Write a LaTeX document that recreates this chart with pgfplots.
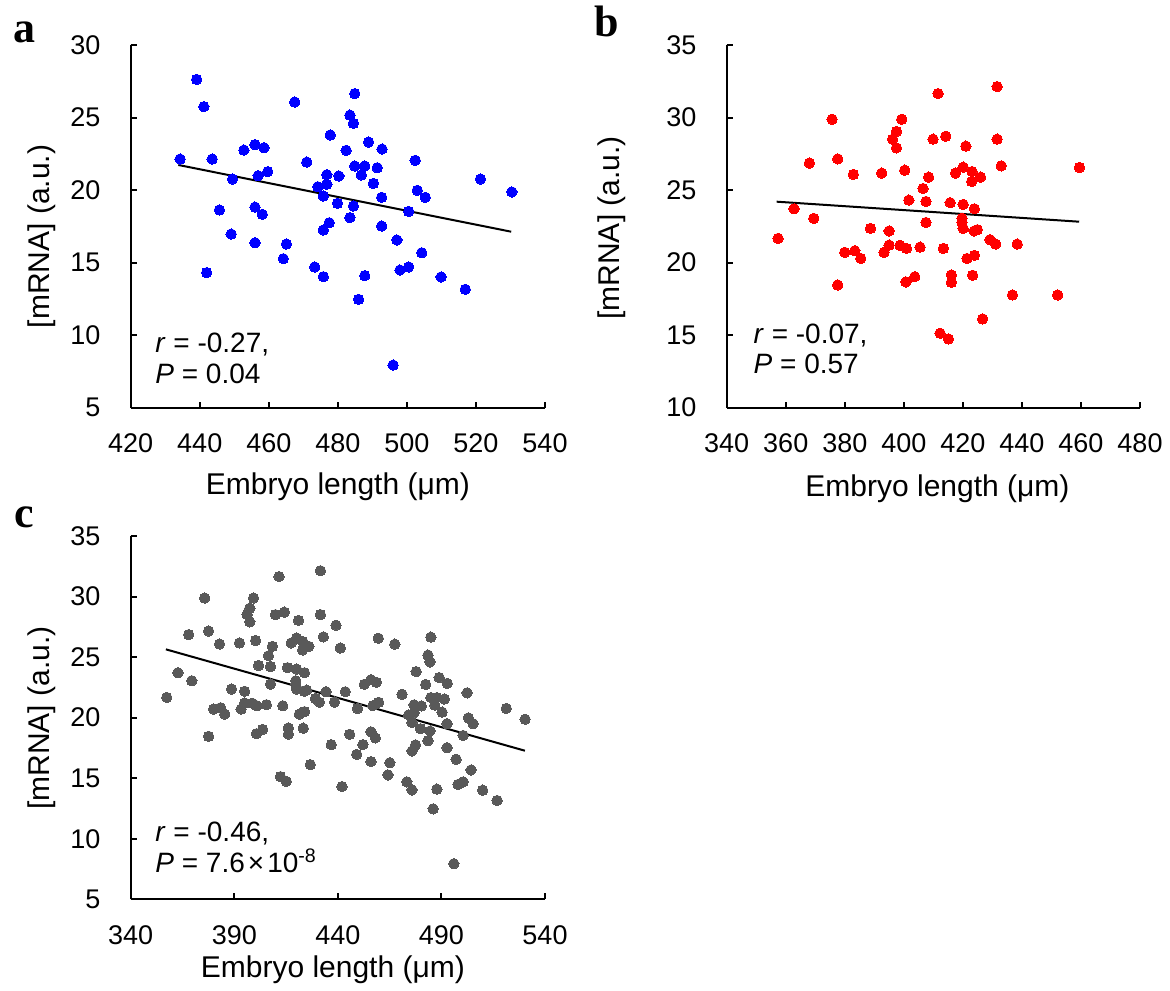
\documentclass[border=0pt]{standalone}
\usepackage{fontspec}
\setmainfont{Liberation Sans}
\newfontfamily\letterfont{Liberation Serif}
\usepackage{pgfplots}
\usepackage{pgfplotstable}
\pgfplotsset{compat=1.18}
\definecolor{ptblue}{RGB}{0,0,255}
\definecolor{ptred}{RGB}{255,0,0}
\definecolor{ptgray}{RGB}{89,89,89}

\pgfplotstableread{
x y
434.3 22.14
439.1 27.63
441.2 25.75
443.6 22.14
442.0 14.31
449.5 20.76
445.7 18.63
449.1 16.97
452.8 22.76
456.0 23.13
458.6 22.92
456.9 20.99
459.7 21.27
456.0 18.83
458.1 18.33
456.0 16.37
465.1 16.28
464.2 15.27
467.5 26.07
471.0 21.93
473.3 14.70
475.8 14.03
475.8 17.25
477.5 17.75
477.8 23.80
474.2 20.23
475.8 19.59
476.8 20.40
476.8 21.06
480.3 20.97
479.9 19.09
482.4 22.74
483.5 25.17
484.5 24.60
484.9 26.65
484.9 21.66
484.5 18.90
483.5 18.10
487.8 21.66
486.8 21.04
488.9 23.31
490.3 20.46
491.4 21.54
492.8 22.83
492.7 19.50
492.7 17.52
486.0 12.47
487.8 14.10
497.1 16.56
498.0 14.49
500.5 14.70
500.5 18.53
502.4 22.05
503.0 19.98
505.3 19.50
504.3 15.68
496.0 7.94
509.9 14.01
516.9 13.16
521.3 20.76
530.4 19.87
}\dataA

\pgfplotstableread{
x y
357.4 21.67
362.8 23.71
369.5 23.05
368.0 26.86
375.7 29.88
377.6 27.15
377.6 18.46
380.0 20.71
383.4 20.82
385.4 20.29
382.9 26.08
388.7 22.36
392.5 26.17
393.3 20.71
395.0 22.18
395.0 21.21
396.2 28.51
397.5 29.04
397.5 27.91
399.3 29.88
400.3 26.37
398.7 21.19
400.9 20.98
400.7 18.67
403.7 19.03
401.7 24.31
405.5 21.07
406.5 25.11
407.5 22.77
407.5 24.22
408.4 25.89
409.9 28.51
411.6 31.65
414.2 28.71
412.3 15.13
413.4 20.98
415.1 14.74
415.7 24.13
416.1 19.15
416.1 18.64
417.5 26.17
420.1 26.58
420.1 24.01
419.7 23.05
419.7 22.77
420.1 22.36
421.0 28.03
423.1 26.28
423.0 25.59
426.0 25.89
423.9 23.71
423.8 22.18
424.9 22.27
421.4 20.29
423.9 20.50
423.3 19.13
426.7 16.12
429.2 21.58
431.1 21.28
431.6 32.13
431.6 28.51
433.0 26.67
438.4 21.28
436.8 17.77
452.1 17.77
459.5 26.56
}\dataB

\pgfplotsset{
  panel/.style={
    scale only axis, width=207.15bp, height=181.35bp, anchor=south west,
    axis x line*=bottom, axis y line*=left,
    axis line style={line width=1bp, black},
    major tick style={line width=1bp, black},
    major tick length=3bp,
    tick align=inside,
    tick label style={font=\fontsize{13.5bp}{16bp}\selectfont},
    /pgf/number format/assume math mode=true,
    yticklabel style={inner sep=0pt, anchor=east, xshift=-15bp},
    xticklabel style={inner sep=0pt, anchor=north, yshift=-12.8bp},
    label style={font=\fontsize{15bp}{18bp}\selectfont},
    xlabel={Embryo length (μm)},
    ylabel={[mRNA] (a.u.)},
    clip=false,
  },
  pts/.style={only marks, mark=*, mark size=2.6bp, color=#1, mark options={solid, draw=#1, fill=#1, line width=0pt}},
  trend/.style={black, line width=1bp, no marks},
}
\tikzset{anno/.style={anchor=base west, inner sep=0pt, font=\fontsize{14bp}{17bp}\selectfont}}

\begin{document}
\begin{tikzpicture}
\path[use as bounding box] (0,0) rectangle (585bp,495.5bp);

% panel a
\begin{axis}[panel, at={(65.35bp,291.65bp)},
  xmin=420, xmax=540, ymin=5, ymax=30,
  xtick={420,440,...,540}, ytick={5,10,...,30},
  xlabel style={at={(axis description cs:0.5,-0.2407)}, anchor=base},
  ylabel style={at={(axis description cs:-0.2148,0.472)}, anchor=center},
]
\addplot[pts=ptblue] table {\dataA};
\addplot[trend] coordinates {(433.8,21.73) (530.2,17.13)};
\node[anno] at (rel axis cs:0.0587,0.1516) {\textit{r} = -0.27,};
\node[anno] at (rel axis cs:0.0587,0.0673) {\textit{P} = 0.04};
\end{axis}

% panel b
\begin{axis}[panel, at={(363.35bp,291.65bp)}, width=206.65bp,
  xmin=340, xmax=480, ymin=10, ymax=35,
  xtick={340,360,...,480}, ytick={10,15,...,35},
  xlabel style={at={(axis description cs:0.51,-0.2435)}, anchor=base},
  ylabel style={at={(axis description cs:-0.2775,0.4955)}, anchor=center},
]
\addplot[pts=ptred] table {\dataB};
\addplot[trend] coordinates {(356.9,24.2) (459.4,22.82)};
\node[anno] at (rel axis cs:0.0644,0.1776) {\textit{r} = -0.07,};
\node[anno] at (rel axis cs:0.0644,0.0929) {\textit{P} = 0.57};
\end{axis}

% panel c
\begin{axis}[panel, at={(65.35bp,45.85bp)}, height=181.65bp,
  xmin=340, xmax=540, ymin=5, ymax=35,
  xtick={340,390,440,490,540}, ytick={5,10,...,35},
  xlabel style={at={(axis description cs:0.488,-0.2166)}, anchor=base},
  ylabel style={at={(axis description cs:-0.214,0.499)}, anchor=center},
]
\addplot[pts=ptgray] table {\dataA};
\addplot[pts=ptgray] table {\dataB};
\addplot[trend] coordinates {(357.0,25.64) (530.3,17.27)};
\node[anno] at (rel axis cs:0.0587,0.1585) {\textit{r} = -0.46,};
\node[anno] at (rel axis cs:0.0587,0.0732) {\textit{P} = 7.6\kern1.5bp×\kern1.5bp10\textsuperscript{-8}};
\end{axis}

\node[anchor=base west, inner sep=0pt, font=\letterfont\bfseries\fontsize{22bp}{24bp}\selectfont] at (6.35bp,474.15bp) {a};
\node[anchor=base west, inner sep=0pt, font=\letterfont\bfseries\fontsize{22bp}{24bp}\selectfont] at (297bp,477.15bp) {b};
\node[anchor=base west, inner sep=0pt, font=\letterfont\bfseries\fontsize{22bp}{24bp}\selectfont] at (7bp,231.5bp) {c};
\end{tikzpicture}
\end{document}
